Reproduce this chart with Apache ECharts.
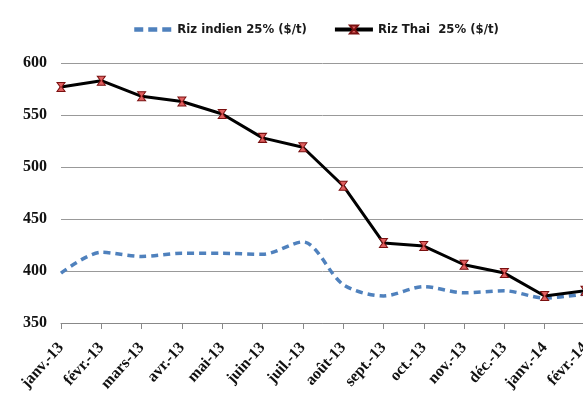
<!DOCTYPE html>
<html>
<head>
<meta charset="utf-8">
<script src="https://cdn.jsdelivr.net/npm/echarts@6/dist/echarts.min.js"></script>
<style>
  html, body { margin: 0; padding: 0; background: #fff; }
  #chart { width: 583px; height: 401px; }
</style>
</head>
<body>
<div id="chart"></div>
<script>
// données
var mois = ['janv.-13', 'févr.-13', 'mars-13', 'avr.-13', 'mai-13', 'juin-13', 'juil.-13',
            'août-13', 'sept.-13', 'oct.-13', 'nov.-13', 'déc.-13', 'janv.-14', 'févr.-14'];
var rizIndien = [398, 418, 414, 417, 417, 416, 428, 387, 376, 385, 379, 381, 374, 378];
var rizThai = [577, 583, 568, 563, 551, 528, 519, 482, 427, 424, 406, 398, 376, 381];

var chart = echarts.init(document.getElementById('chart'));

var option = {
    animation: false,
    legend: {
        top: 18,
        left: 127,
        itemWidth: 38,
        itemHeight: 10,
        itemGap: 26,
        textStyle: {
            fontFamily: 'DejaVu Sans Condensed',
            fontWeight: 'bold',
            fontSize: 13,
            color: '#1a1a1a'
        },
        data: [
            {
                name: 'Riz indien 25% ($/t)',
                itemStyle: { opacity: 0 },
                lineStyle: { width: 4.5, type: [9, 5] }
            },
            { name: 'Riz Thai  25% ($/t)', lineStyle: { width: 4 } }
        ]
    },
    grid: {
        left: 61,
        right: -2,
        top: 63,
        bottom: 78,
        outerBoundsMode: 'none'
    },
    xAxis: {
        type: 'category',
        data: mois,
        boundaryGap: false,
        axisLine: { lineStyle: { color: '#888', width: 1 } },
        axisTick: { length: 6, lineStyle: { color: '#888' } },
        axisLabel: {
            rotate: 48,
            interval: 0,
            margin: 22,
            fontFamily: 'Liberation Serif',
            fontWeight: 'bold',
            fontSize: 16,
            color: '#111'
        }
    },
    yAxis: {
        type: 'value',
        min: 350,
        max: 600,
        interval: 50,
        axisLine: { show: false },
        axisTick: { show: false },
        splitLine: { lineStyle: { color: '#999', width: 1 } },
        axisLabel: {
            margin: 14,
            fontFamily: 'Liberation Serif',
            fontWeight: 'bold',
            fontSize: 16,
            color: '#111'
        }
    },
    series: [
        {
            name: 'Riz indien 25% ($/t)',
            type: 'line',
            data: rizIndien,
            smooth: 0.3,
            symbol: 'none',
            itemStyle: { color: '#4f81bd' },
            lineStyle: { color: '#4f81bd', width: 3.5, type: [7, 5] }
        },
        {
            name: 'Riz Thai  25% ($/t)',
            type: 'line',
            data: rizThai,
            symbol: 'path://M0,0 L10,0 L6,5 L10,10 L0,10 L4,5 Z',
            symbolSize: [8, 9],
            itemStyle: { color: '#e06060', borderColor: '#7a1010', borderWidth: 1 },
            lineStyle: { color: '#000', width: 3 }
        }
    ]
};

chart.setOption(option);
</script>
</body>
</html>
